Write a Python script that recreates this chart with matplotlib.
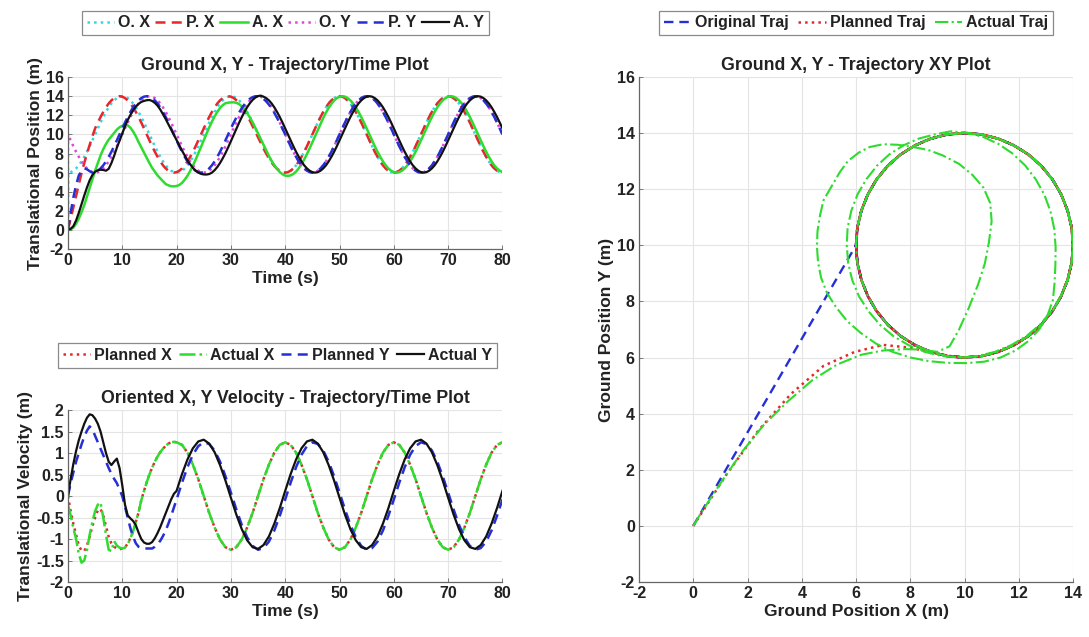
"""Ground trajectory / velocity comparison: original vs planned vs actual."""

import matplotlib

matplotlib.use("Agg")
import matplotlib.pyplot as plt
import numpy as np
from matplotlib.ticker import FormatStrFormatter

plt.rcParams["font.family"] = ["Liberation Sans", "DejaVu Sans"]
plt.rcParams["font.weight"] = "bold"
plt.rcParams["axes.unicode_minus"] = False

# ---- position data (m), sampled every 0.5 s, t = 0..80 s (one row = 5 s) ----
t_pos = list(np.arange(0, 80.5, 0.5))
t_orig = [0.0] + t_pos  # original trajectory jumps from (0, 0) at t = 0

orig_x = [0.0,
          6.0, 6.05, 6.2, 6.44, 6.76, 7.17, 7.65, 8.18, 8.76, 9.37,
          10.0, 10.63, 11.24, 11.82, 12.35, 12.83, 13.24, 13.56, 13.8, 13.95,
          14.0, 13.95, 13.8, 13.56, 13.24, 12.83, 12.35, 11.82, 11.24, 10.63,
          10.0, 9.37, 8.76, 8.18, 7.65, 7.17, 6.76, 6.44, 6.2, 6.05,
          6.0, 6.05, 6.2, 6.44, 6.76, 7.17, 7.65, 8.18, 8.76, 9.37,
          10.0, 10.63, 11.24, 11.82, 12.35, 12.83, 13.24, 13.56, 13.8, 13.95,
          14.0, 13.95, 13.8, 13.56, 13.24, 12.83, 12.35, 11.82, 11.24, 10.63,
          10.0, 9.37, 8.76, 8.18, 7.65, 7.17, 6.76, 6.44, 6.2, 6.05,
          6.0, 6.05, 6.2, 6.44, 6.76, 7.17, 7.65, 8.18, 8.76, 9.37,
          10.0, 10.63, 11.24, 11.82, 12.35, 12.83, 13.24, 13.56, 13.8, 13.95,
          14.0, 13.95, 13.8, 13.56, 13.24, 12.83, 12.35, 11.82, 11.24, 10.63,
          10.0, 9.37, 8.76, 8.18, 7.65, 7.17, 6.76, 6.44, 6.2, 6.05,
          6.0, 6.05, 6.2, 6.44, 6.76, 7.17, 7.65, 8.18, 8.76, 9.37,
          10.0, 10.63, 11.24, 11.82, 12.35, 12.83, 13.24, 13.56, 13.8, 13.95,
          14.0, 13.95, 13.8, 13.56, 13.24, 12.83, 12.35, 11.82, 11.24, 10.63,
          10.0, 9.37, 8.76, 8.18, 7.65, 7.17, 6.76, 6.44, 6.2, 6.05,
          6.0]
orig_y = [0.0,
          10.0, 9.37, 8.76, 8.18, 7.65, 7.17, 6.76, 6.44, 6.2, 6.05,
          6.0, 6.05, 6.2, 6.44, 6.76, 7.17, 7.65, 8.18, 8.76, 9.37,
          10.0, 10.63, 11.24, 11.82, 12.35, 12.83, 13.24, 13.56, 13.8, 13.95,
          14.0, 13.95, 13.8, 13.56, 13.24, 12.83, 12.35, 11.82, 11.24, 10.63,
          10.0, 9.37, 8.76, 8.18, 7.65, 7.17, 6.76, 6.44, 6.2, 6.05,
          6.0, 6.05, 6.2, 6.44, 6.76, 7.17, 7.65, 8.18, 8.76, 9.37,
          10.0, 10.63, 11.24, 11.82, 12.35, 12.83, 13.24, 13.56, 13.8, 13.95,
          14.0, 13.95, 13.8, 13.56, 13.24, 12.83, 12.35, 11.82, 11.24, 10.63,
          10.0, 9.37, 8.76, 8.18, 7.65, 7.17, 6.76, 6.44, 6.2, 6.05,
          6.0, 6.05, 6.2, 6.44, 6.76, 7.17, 7.65, 8.18, 8.76, 9.37,
          10.0, 10.63, 11.24, 11.82, 12.35, 12.83, 13.24, 13.56, 13.8, 13.95,
          14.0, 13.95, 13.8, 13.56, 13.24, 12.83, 12.35, 11.82, 11.24, 10.63,
          10.0, 9.37, 8.76, 8.18, 7.65, 7.17, 6.76, 6.44, 6.2, 6.05,
          6.0, 6.05, 6.2, 6.44, 6.76, 7.17, 7.65, 8.18, 8.76, 9.37,
          10.0, 10.63, 11.24, 11.82, 12.35, 12.83, 13.24, 13.56, 13.8, 13.95,
          14.0, 13.95, 13.8, 13.56, 13.24, 12.83, 12.35, 11.82, 11.24, 10.63,
          10.0]

plan_x = [0.0, 1.2, 2.4, 3.6, 4.8, 5.95, 7.0, 8.0, 8.9, 9.8,
          10.63, 11.24, 11.82, 12.35, 12.83, 13.24, 13.56, 13.8, 13.95, 14.0,
          13.95, 13.8, 13.56, 13.24, 12.83, 12.35, 11.82, 11.24, 10.63, 10.0,
          9.37, 8.76, 8.18, 7.65, 7.17, 6.76, 6.44, 6.2, 6.05, 6.0,
          6.05, 6.2, 6.44, 6.76, 7.17, 7.65, 8.18, 8.76, 9.37, 10.0,
          10.63, 11.24, 11.82, 12.35, 12.83, 13.24, 13.56, 13.8, 13.95, 14.0,
          13.95, 13.81, 13.59, 13.29, 12.92, 12.48, 11.98, 11.44, 10.87, 10.28,
          9.69, 9.10, 8.53, 7.99, 7.50, 7.06, 6.69, 6.39, 6.18, 6.04,
          6.0, 6.05, 6.2, 6.44, 6.76, 7.17, 7.65, 8.18, 8.76, 9.37,
          10.0, 10.63, 11.24, 11.82, 12.35, 12.83, 13.24, 13.56, 13.8, 13.95,
          14.0, 13.95, 13.8, 13.56, 13.24, 12.83, 12.35, 11.82, 11.24, 10.63,
          10.0, 9.37, 8.76, 8.18, 7.65, 7.17, 6.76, 6.44, 6.2, 6.05,
          6.0, 6.05, 6.2, 6.44, 6.76, 7.17, 7.65, 8.18, 8.76, 9.37,
          10.0, 10.63, 11.24, 11.82, 12.35, 12.83, 13.24, 13.56, 13.8, 13.95,
          14.0, 13.95, 13.8, 13.56, 13.24, 12.83, 12.35, 11.82, 11.24, 10.63,
          10.0, 9.37, 8.76, 8.18, 7.65, 7.17, 6.76, 6.44, 6.2, 6.05,
          6.0]
plan_y = [0.0, 1.8, 3.4, 4.7, 5.7, 6.2, 6.45, 6.35, 6.15, 6.0,
          6.05, 6.2, 6.44, 6.76, 7.17, 7.65, 8.18, 8.76, 9.37, 10.0,
          10.63, 11.24, 11.82, 12.35, 12.83, 13.24, 13.56, 13.8, 13.95, 14.0,
          13.95, 13.8, 13.56, 13.24, 12.83, 12.35, 11.82, 11.24, 10.63, 10.0,
          9.37, 8.76, 8.18, 7.65, 7.17, 6.76, 6.44, 6.2, 6.05, 6.0,
          6.05, 6.2, 6.44, 6.76, 7.17, 7.65, 8.18, 8.76, 9.37, 10.0,
          10.63, 11.21, 11.76, 12.27, 12.74, 13.14, 13.47, 13.73, 13.90, 13.99,
          13.99, 13.90, 13.72, 13.46, 13.12, 12.72, 12.25, 11.73, 11.18, 10.59,
          10.0, 9.37, 8.76, 8.18, 7.65, 7.17, 6.76, 6.44, 6.2, 6.05,
          6.0, 6.05, 6.2, 6.44, 6.76, 7.17, 7.65, 8.18, 8.76, 9.37,
          10.0, 10.63, 11.24, 11.82, 12.35, 12.83, 13.24, 13.56, 13.8, 13.95,
          14.0, 13.95, 13.8, 13.56, 13.24, 12.83, 12.35, 11.82, 11.24, 10.63,
          10.0, 9.37, 8.76, 8.18, 7.65, 7.17, 6.76, 6.44, 6.2, 6.05,
          6.0, 6.05, 6.2, 6.44, 6.76, 7.17, 7.65, 8.18, 8.76, 9.37,
          10.0, 10.63, 11.24, 11.82, 12.35, 12.83, 13.24, 13.56, 13.8, 13.95,
          14.0, 13.95, 13.8, 13.56, 13.24, 12.83, 12.35, 11.82, 11.24, 10.63,
          10.0]

act_x = [0.0, 0.08, 0.25, 0.65, 1.2, 1.85, 2.6, 3.5, 4.4, 5.3,
         6.2, 7.0, 7.8, 8.45, 9.0, 9.45, 9.8, 10.15, 10.5, 10.75,
         10.9, 11.0, 10.95, 10.7, 10.3, 9.8, 9.2, 8.65, 8.1, 7.55,
         7.0, 6.5, 6.1, 5.7, 5.4, 5.1, 4.8, 4.67, 4.58, 4.56,
         4.6, 4.71, 4.93, 5.26, 5.67, 6.17, 6.73, 7.35, 8.01, 8.69,
         9.38, 10.06, 10.72, 11.33, 11.88, 12.36, 12.76, 13.06, 13.26, 13.32,
         13.35, 13.36, 13.31, 13.17, 12.94, 12.62, 12.23, 11.77, 11.25, 10.69,
         10.10, 9.5, 8.90, 8.31, 7.75, 7.23, 6.77, 6.38, 6.06, 5.83,
         5.69, 5.66, 5.71, 5.86, 6.11, 6.46, 6.88, 7.38, 7.94, 8.54,
         9.18, 9.83, 10.48, 11.12, 11.72, 12.28, 12.78, 13.20, 13.55, 13.80,
         13.95, 14.0, 13.95, 13.8, 13.56, 13.24, 12.83, 12.35, 11.82, 11.24,
         10.63, 10.0, 9.37, 8.76, 8.18, 7.65, 7.17, 6.76, 6.44, 6.2,
         6.05, 6.0, 6.05, 6.2, 6.44, 6.76, 7.17, 7.65, 8.18, 8.76,
         9.37, 10.0, 10.63, 11.24, 11.82, 12.35, 12.83, 13.24, 13.56, 13.8,
         13.95, 14.0, 13.95, 13.8, 13.56, 13.24, 12.83, 12.35, 11.82, 11.24,
         10.63, 10.0, 9.37, 8.76, 8.18, 7.65, 7.17, 6.76, 6.44, 6.2,
         6.05]
act_y = [0.0, 0.12, 0.4, 1.0, 1.8, 2.7, 3.6, 4.45, 5.2, 5.75,
         6.1, 6.25, 6.3, 6.28, 6.2, 6.4, 7.0, 7.75, 8.6, 9.35,
         10.1, 10.85, 11.5, 12.05, 12.5, 12.9, 13.2, 13.4, 13.5, 13.58,
         13.6, 13.5, 13.3, 13.0, 12.6, 12.1, 11.6, 11.05, 10.5, 9.95,
         9.4, 8.85, 8.3, 7.8, 7.3, 6.88, 6.5, 6.2, 6.0, 5.87,
         5.81, 5.80, 5.85, 6.00, 6.25, 6.59, 7.01, 7.50, 8.05, 8.65,
         9.28, 9.93, 10.58, 11.21, 11.81, 12.36, 12.85, 13.27, 13.61, 13.86,
         14.01, 14.06, 13.95, 13.8, 13.56, 13.24, 12.83, 12.35, 11.82, 11.24,
         10.63, 10.0, 9.37, 8.76, 8.18, 7.65, 7.17, 6.76, 6.44, 6.2,
         6.05, 6.0, 6.05, 6.2, 6.44, 6.76, 7.17, 7.65, 8.18, 8.76,
         9.37, 10.0, 10.63, 11.24, 11.82, 12.35, 12.83, 13.24, 13.56, 13.8,
         13.95, 14.0, 13.95, 13.8, 13.56, 13.24, 12.83, 12.35, 11.82, 11.24,
         10.63, 10.0, 9.37, 8.76, 8.18, 7.65, 7.17, 6.76, 6.44, 6.2,
         6.05, 6.0, 6.05, 6.2, 6.44, 6.76, 7.17, 7.65, 8.18, 8.76,
         9.37, 10.0, 10.63, 11.24, 11.82, 12.35, 12.83, 13.24, 13.56, 13.8,
         13.95, 14.0, 13.95, 13.8, 13.56, 13.24, 12.83, 12.35, 11.82, 11.24,
         10.63]

# ---- oriented velocity data (m/s): 0.5 s steps to 20 s, then 1 s ----
t_vel = list(np.arange(0, 20.5, 0.5)) + list(range(21, 81))

plan_vx = [0.0, -0.35, -0.65, -0.9, -1.15, -1.27, -1.28, -1.15, -0.95, -0.7,
           -0.5, -0.33, -0.3, -0.45, -0.7, -0.95, -1.1, -1.18, -1.22, -1.24,
           -1.22, -1.2, -1.1, -0.98, -0.82, -0.6, -0.38, -0.1, 0.12, 0.32,
           0.5, 0.66, 0.8, 0.92, 1.02, 1.1, 1.17, 1.22, 1.25, 1.26,
           1.25,
           1.19, 1.01, 0.73, 0.39, 0.0, -0.39, -0.73, -1.01, -1.19,
           -1.25, -1.19, -1.01, -0.73, -0.39, 0.0, 0.39, 0.73, 1.01, 1.19,
           1.25, 1.19, 1.01, 0.73, 0.39, 0.0, -0.39, -0.73, -1.01, -1.19,
           -1.25, -1.19, -1.01, -0.73, -0.39, 0.0, 0.39, 0.73, 1.01, 1.19,
           1.25, 1.19, 1.01, 0.73, 0.39, 0.0, -0.39, -0.73, -1.01, -1.19,
           -1.25, -1.19, -1.01, -0.73, -0.39, 0.0, 0.39, 0.73, 1.01, 1.19,
           1.25]
act_vx = [-0.2, -0.45, -0.75, -1.0, -1.35, -1.55, -1.5, -1.25, -0.9, -0.6,
          -0.35, -0.2, -0.15, -0.5, -0.9, -1.25, -1.28, -1.05, -1.15, -1.2,
          -1.22, -1.2, -1.12, -0.98, -0.82, -0.6, -0.38, -0.1, 0.12, 0.32,
          0.5, 0.66, 0.8, 0.92, 1.02, 1.1, 1.17, 1.22, 1.25, 1.26,
          1.25,
          1.19, 1.01, 0.73, 0.39, 0.0, -0.39, -0.73, -1.01, -1.19,
          -1.25, -1.19, -1.01, -0.73, -0.39, 0.0, 0.39, 0.73, 1.01, 1.19,
          1.25, 1.19, 1.01, 0.73, 0.39, 0.0, -0.39, -0.73, -1.01, -1.19,
          -1.25, -1.19, -1.01, -0.73, -0.39, 0.0, 0.39, 0.73, 1.01, 1.19,
          1.25, 1.19, 1.01, 0.73, 0.39, 0.0, -0.39, -0.73, -1.01, -1.19,
          -1.25, -1.19, -1.01, -0.73, -0.39, 0.0, 0.39, 0.73, 1.01, 1.19,
          1.25]
plan_vy = [0.0, 0.3, 0.55, 0.8, 1.0, 1.2, 1.38, 1.52, 1.62, 1.55,
           1.4, 1.25, 1.1, 0.95, 0.8, 0.65, 0.52, 0.4, 0.3, 0.15,
           0.0, -0.25, -0.5, -0.75, -0.95, -1.1, -1.18, -1.21, -1.22, -1.22,
           -1.22, -1.22, -1.18, -1.12, -1.04, -0.93, -0.8, -0.64, -0.46, -0.27,
           -0.08,
           0.31, 0.67, 0.96, 1.16, 1.25, 1.21, 1.06, 0.80, 0.46,
           0.08, -0.31, -0.67, -0.96, -1.16, -1.25, -1.21, -1.06, -0.80, -0.46,
           -0.08, 0.31, 0.67, 0.96, 1.16, 1.25, 1.21, 1.06, 0.80, 0.46,
           0.08, -0.31, -0.67, -0.96, -1.16, -1.25, -1.21, -1.06, -0.80, -0.46,
           -0.08, 0.31, 0.67, 0.96, 1.16, 1.25, 1.21, 1.06, 0.80, 0.46,
           0.08, -0.31, -0.67, -0.96, -1.16, -1.25, -1.21, -1.06, -0.80, -0.46,
           -0.08]
act_vy = [0.0, 0.4, 0.75, 1.05, 1.3, 1.5, 1.68, 1.82, 1.9, 1.88,
          1.8, 1.68, 1.5, 1.25, 1.0, 0.8, 0.72, 0.8, 0.87, 0.65,
          0.25, -0.2, -0.45, -0.52, -0.58, -0.68, -0.85, -1.0, -1.08, -1.11,
          -1.11, -1.07, -0.98, -0.86, -0.72, -0.56, -0.4, -0.24, -0.08, 0.05,
          0.12,
          0.51, 0.85, 1.11, 1.27, 1.31, 1.22, 1.02, 0.72, 0.36,
          -0.04, -0.43, -0.77, -1.03, -1.19, -1.23, -1.14, -0.94, -0.64, -0.28,
          0.12, 0.51, 0.85, 1.11, 1.27, 1.31, 1.22, 1.02, 0.72, 0.36,
          -0.04, -0.43, -0.77, -1.03, -1.19, -1.23, -1.14, -0.94, -0.64, -0.28,
          0.12, 0.51, 0.85, 1.11, 1.27, 1.31, 1.22, 1.02, 0.72, 0.36,
          -0.04, -0.43, -0.77, -1.03, -1.19, -1.23, -1.14, -0.94, -0.64, -0.28,
          0.12]

# ---- styling ----
C_CYAN = "#2fd9e3"
C_RED = "#e8262b"
C_GREEN = "#2edc2e"
C_MAGENTA = "#e045e0"
C_BLUE = "#2430d6"
C_BLACK = "#111111"
TEXT = "#222222"
AXIS = "#666666"
GRID = "#e4e4e4"
FS = 11.5      # tick / legend text
FS_LABEL = 12.5
FS_TITLE = 12.8


def style_axes(ax, xlim, ylim, xticks, yticks):
    ax.set_xlim(*xlim)
    ax.set_ylim(*ylim)
    ax.set_xticks(xticks)
    ax.set_yticks(yticks)
    ax.grid(True, color=GRID, linewidth=0.8)
    ax.set_axisbelow(True)
    for side in ("top", "right"):
        ax.spines[side].set_visible(False)
    for side in ("left", "bottom"):
        ax.spines[side].set_color(AXIS)
        ax.spines[side].set_linewidth(0.9)
    ax.tick_params(direction="in", length=3, width=0.6, colors=AXIS,
                   labelcolor=TEXT, labelsize=FS, pad=3)
    for lab in ax.get_xticklabels() + ax.get_yticklabels():
        lab.set_fontweight("bold")


def label_axes(ax, title, xlabel, ylabel):
    ax.set_title(title, fontsize=FS_TITLE, fontweight="bold", color=TEXT, pad=5)
    ax.set_xlabel(xlabel, fontsize=FS_LABEL, fontweight="bold", color=TEXT, labelpad=2)
    ax.set_ylabel(ylabel, fontsize=FS_LABEL, fontweight="bold", color=TEXT, labelpad=2)


def add_legend(fig, handles, x, y, ncol, colspace=0.35):
    leg = fig.legend(handles=handles, loc="center", bbox_to_anchor=(x, y),
                     ncol=ncol, frameon=True, fancybox=False,
                     edgecolor="#8a8a8a", framealpha=1.0,
                     handlelength=1.7, handletextpad=0.25, columnspacing=colspace,
                     borderpad=0.3, prop={"weight": "bold", "size": FS})
    leg.get_frame().set_linewidth(0.9)
    for txt in leg.get_texts():
        txt.set_color(TEXT)
    return leg


fig = plt.figure(figsize=(10.89, 6.37), dpi=100)

# ---- ground X, Y over time ----
ax1 = fig.add_axes([0.0624, 0.609, 0.399, 0.270])
h = []
h += ax1.plot(t_orig, orig_x, ":", color=C_CYAN, lw=1.8, label="O. X")
h += ax1.plot(t_pos, plan_x, "--", color=C_RED, lw=1.8, dashes=(4, 2.5), label="P. X")
h += ax1.plot(t_pos, act_x, "-", color=C_GREEN, lw=1.8, label="A. X")
h += ax1.plot(t_orig, orig_y, ":", color=C_MAGENTA, lw=1.8, label="O. Y")
h += ax1.plot(t_pos, plan_y, "--", color=C_BLUE, lw=1.8, dashes=(4, 2.5), label="P. Y")
h += ax1.plot(t_pos, act_y, "-", color=C_BLACK, lw=1.6, label="A. Y")
style_axes(ax1, (0, 80), (-2, 16), range(0, 81, 10), range(-2, 17, 2))
label_axes(ax1, "Ground X, Y - Trajectory/Time Plot", "Time (s)",
           "Translational Position (m)")
add_legend(fig, h, 0.262, 0.964, 6)

# ---- oriented velocity over time ----
ax2 = fig.add_axes([0.0624, 0.0863, 0.399, 0.270])
h = []
h += ax2.plot(t_vel, plan_vx, ":", color=C_RED, lw=1.8, label="Planned X")
h += ax2.plot(t_vel, act_vx, "-.", color=C_GREEN, lw=1.8, label="Actual X")
h += ax2.plot(t_vel, plan_vy, "--", color=C_BLUE, lw=1.8, dashes=(4, 2.5), label="Planned Y")
h += ax2.plot(t_vel, act_vy, "-", color=C_BLACK, lw=1.6, label="Actual Y")
style_axes(ax2, (0, 80), (-2, 2), range(0, 81, 10), np.arange(-2, 2.01, 0.5))
ax2.yaxis.set_major_formatter(FormatStrFormatter("%g"))
label_axes(ax2, "Oriented X, Y Velocity - Trajectory/Time Plot", "Time (s)",
           "Translational Velocity (m)")
add_legend(fig, h, 0.2548, 0.442, 4, colspace=0.45)

# ---- ground XY path ----
ax3 = fig.add_axes([0.5868, 0.0863, 0.3985, 0.793])
h = []
h += ax3.plot(orig_x, orig_y, "--", color=C_BLUE, lw=1.7, dashes=(4, 2.5), label="Original Traj")
h += ax3.plot(plan_x, plan_y, ":", color=C_RED, lw=1.8, label="Planned Traj")
h += ax3.plot(act_x, act_y, "-.", color=C_GREEN, lw=1.5, label="Actual Traj")
style_axes(ax3, (-2, 14), (-2, 16), range(-2, 15, 2), range(-2, 17, 2))
label_axes(ax3, "Ground X, Y - Trajectory XY Plot", "Ground Position X (m)",
           "Ground Position Y (m)")
add_legend(fig, h, 0.786, 0.964, 3, colspace=0.6)

fig.savefig("out.png", dpi=100)
plt.close(fig)
